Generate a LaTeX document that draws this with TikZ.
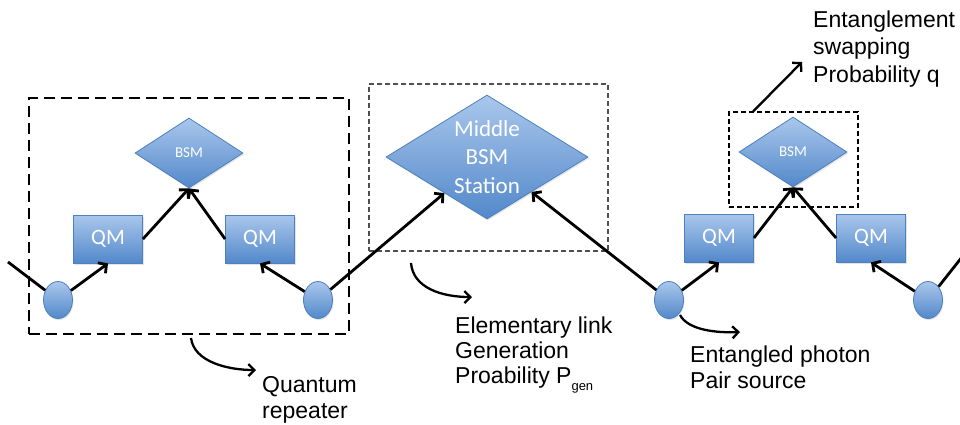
\documentclass[tikz,border=0pt]{standalone}
\usepackage{fontspec}
\setmainfont{Liberation Sans}
\newfontfamily\shapefont{Carlito}
\usetikzlibrary{shapes.geometric,arrows.meta,shadows,calc}

\definecolor{blueTop}{RGB}{170,199,236}
\definecolor{blueBot}{RGB}{82,136,202}
\definecolor{blueEdge}{RGB}{76,128,190}
\definecolor{boxGray}{RGB}{80,80,80}

\begin{document}
\begin{tikzpicture}[x=1pt,y=-1pt,
  blueshape/.style={draw=blueEdge, line width=0.8pt, top color=blueTop,
    bottom color=blueBot, inner sep=0pt, text=white,
    drop shadow={opacity=0.22,shadow xshift=1pt,shadow yshift=-1.5pt}},
  qm/.style={blueshape, rectangle, minimum width=69pt, minimum height=48pt,
    font=\shapefont\fontsize{22}{26}\selectfont},
  bsm/.style={blueshape, diamond, minimum width=108pt, minimum height=70pt,
    font=\shapefont\fontsize{15}{18}\selectfont},
  src/.style={blueshape, ellipse, minimum width=29pt, minimum height=37pt},
  link/.style={line width=2.8pt},
  arr/.style={link, -{Straight Barb[length=6pt,width=13pt]}},
  curvearr/.style={line width=2.3pt, -{Straight Barb[length=6pt,width=12pt]}},
  note/.style={align=left, inner sep=0pt, anchor=base west},
  repbox/.style={draw, dash pattern=on 11pt off 6pt, line width=2.6pt,
    inner sep=0pt},
  thinbox/.style={draw, dash pattern=on 5pt off 3pt, line width=1.2pt,
    inner sep=0pt},
]
\useasboundingbox (0,0) rectangle (960,424);

% ---- dashed frames ----
\node[repbox, minimum width=320pt, minimum height=236pt] (rep) at (189,216) {};
\node[thinbox, draw=boxGray, minimum width=239pt, minimum height=167pt] (elink) at (488.5,167.5) {};
\node[thinbox, minimum width=129pt, minimum height=95pt] (swap) at (793.5,159.5) {};

% ---- left repeater ----
\node[bsm] (b1) at (189,153) {BSM};
\node[qm] (q1) at (108,239) {QM};
\node[qm] (q2) at (260,239) {QM};
\node[src] (e1) at (58,300) {};
\node[src] (e2) at (318,300) {};

% ---- middle station ----
\node[blueshape, diamond, minimum width=202pt, minimum height=124pt,
  label={[text=white, align=center, inner sep=0pt,
    font=\shapefont\fontsize{23}{28.5}\selectfont]center:Middle\\BSM\\Station}]
  (mid) at (487,157) {};

% ---- right repeater ----
\node[bsm] (b2) at (793,152) {BSM};
\node[qm] (q3) at (719,238) {QM};
\node[qm] (q4) at (871,238) {QM};
\node[src] (e3) at (669,300) {};
\node[src] (e4) at (928,300) {};

% ---- connectors ----
\coordinate (lin) at (8,262);
\coordinate (rout) at (962,257);
\draw[link] (lin) -- (e1);
\draw[arr] (e1) -- (q1.south);
\draw[arr] (q1.east) -- (b1.south);
\draw[arr] (q2.west) -- (b1.south);
\draw[arr] (e2) -- (q2.south);
\draw[arr] (e2) -- (mid);
\draw[arr] (e3) -- (mid);
\draw[arr] (e3) -- (q3.south);
\draw[arr] (q3.east) -- (b2.south);
\draw[arr] (q4.west) -- (b2.south);
\draw[arr] (e4) -- (q4.south);
\draw[link] (e4) -- (rout);

% ---- annotations (anchored at the baseline of the last line) ----
\node[note, font=\fontsize{23}{27.5}\selectfont] (tswap) at (813,82)
  {Entanglement\\swapping\\Probability q};
\node[note, font=\fontsize{23}{26}\selectfont] (trep) at (262,418)
  {Quantum\\repeater};
\node[note, font=\fontsize{23}{25}\selectfont] (tlink) at (455,383)
  {Elementary link\\Generation\\Proability P\raisebox{-7pt}{\fontsize{13}{13}\selectfont gen}};
\node[note, font=\fontsize{23}{26}\selectfont] (tpair) at (690,388)
  {Entangled photon\\Pair source};

\coordinate (s1) at ($(swap.north west)!0.19!(swap.north east)$);
\coordinate (s1t) at (802,62);
\draw[arr, line width=2.3pt] (s1) -- (s1t);

\coordinate (c1a) at (191,338);
\coordinate (c1b) at (256,370);
\draw[curvearr] (c1a) .. controls (194,362) and (228,370) .. (c1b);

\coordinate (c2a) at (411,263);
\coordinate (c2b) at (472,297);
\draw[curvearr] (c2a) .. controls (413,288) and (442,297) .. (c2b);

\coordinate (c3a) at (680,315);
\coordinate (c3b) at (740,332);
\draw[curvearr] (c3a) .. controls (688,330) and (716,333) .. (c3b);
\end{tikzpicture}
\end{document}
